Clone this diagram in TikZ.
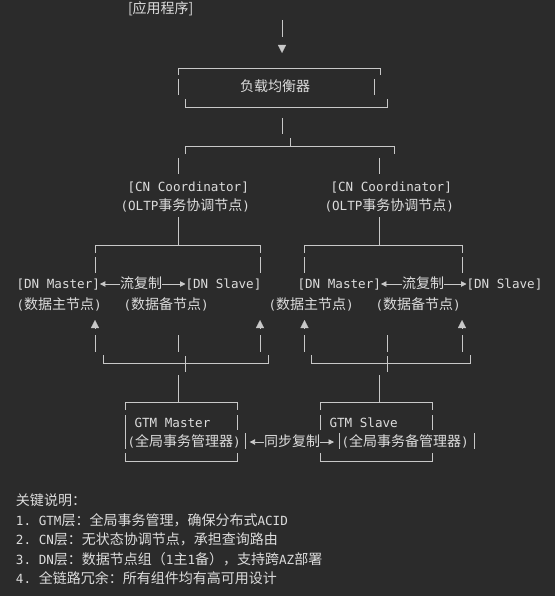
\documentclass[tikz,border=0pt]{standalone}
\usepackage{fontspec}
\setmonofont{DejaVu Sans Mono}
\newfontfamily\cjkfont{Noto Sans CJK SC}
\usepackage{tikz}
\usetikzlibrary{arrows.meta, positioning}
\definecolor{bg}{HTML}{2B2B2B}
\definecolor{fg}{HTML}{DCDCDC}
\definecolor{wirec}{HTML}{C8C8C8}
\newcommand{\zh}[1]{{\cjkfont\fontsize{14}{16}\selectfont #1}}

\begin{document}
\begin{tikzpicture}[
	x=1pt, y=-1pt,
	every node/.style = {shape=rectangle, draw=none, inner sep=0mm, outer sep=0mm, anchor=west, text=fg, text height=10pt, text depth=0.4pt, font=\ttfamily\fontsize{12.6}{15}\selectfont},
	wire/.style = {draw=wirec, line width=0.9pt},
	tip/.style = {draw=wirec, fill=wirec, line width=0.3pt, -{Triangle[length=8pt,width=8pt]}},
	lrep/.style = {wire, {Triangle[length=5.5pt,width=5.5pt]}-},
	rrep/.style = {wire, -{Triangle[length=5.5pt,width=5.5pt]}},
	]
\fill[bg] (0,0) rectangle (555,596);
\begin{scope}
	\node (app) at (128,9) {\zh{[应用程序]}};
	\node (lb) at (240,87) {\zh{负载均衡器}};
	\node (cnA) at (127.5,187) {[CN Coordinator]};
	\node (cnAs) at (120.5,206) {(OLTP\zh{事务协调节点})};
	\node (cnB) at (330.5,187) {[CN Coordinator]};
	\node (cnBs) at (324.5,206) {(OLTP\zh{事务协调节点})};
	\node (dnmA) at (16.5,284) {[DN Master]};
	\node (repA) at (120,284) {\zh{流复制}};
	\node (dnsA) at (185.5,284) {[DN Slave]};
	\node (dnmB) at (297.5,284) {[DN Master]};
	\node (repB) at (402,284) {\zh{流复制}};
	\node (dnsB) at (466.5,284) {[DN Slave]};
	\node (dnmAs) at (16.5,305) {(\zh{数据主节点})};
	\node (dnsAs) at (123.5,305) {(\zh{数据备节点})};
	\node (dnmBs) at (268.5,305) {(\zh{数据主节点})};
	\node (dnsBs) at (375.5,305) {(\zh{数据备节点})};
	\node (gtmM) at (134.5,423) {GTM Master};
	\node (gtmMs) at (127.5,442) {(\zh{全局事务管理器})};
	\node (sync) at (264,442) {\zh{同步复制}};
	\node (gtmS) at (329.5,423) {GTM Slave};
	\node (gtmSs) at (341.5,442) {(\zh{全局事务备管理器})};
\end{scope}
% replication arrows
\draw[lrep] (dnmA.east) -- (repA.west);
\draw[rrep] (repA.east) -- (dnsA.west);
\draw[lrep] (dnmB.east) -- (repB.west);
\draw[rrep] (repB.east) -- (dnsB.west);
\draw[lrep] ([xshift=9pt]gtmMs.east) -- (sync.west);
\draw[rrep] (sync.east) -- ([xshift=-7.5pt]gtmSs.west);
% app to load balancer
\draw[wire] (282,20) -- (282,37);
\draw[tip] (282,45) -- (282,53);
\draw[wire] (178,75) -- (178,68) -- (380,68) -- (380,75);
\draw[wire] (178,79) -- (178,95) (374.5,79) -- (374.5,95);
\draw[wire] (185,99) -- (185,107) -- (387,107) -- (387,99);
% load balancer to coordinators
\draw[wire] (282,118) -- (282,134);
\draw[wire] (290,138) -- (290,146) (185,154) -- (185,146) -- (394,146) -- (394,154);
\draw[wire] (178,158) -- (178,174) (379.5,158) -- (379.5,174);
% coordinators to data nodes
\draw[wire] (178,217) -- (178,245) (379.5,217) -- (379.5,245);
\draw[wire] (95,253) -- (95,245) -- (260,245) -- (260,253) (304.5,253) -- (304.5,245) -- (462,245) -- (462,253);
\foreach \x in {95,260,304.5,462} {
	\draw[wire] (\x,257) -- (\x,273);
	\draw[tip] (\x,328) -- (\x,320);
}
% data nodes to GTM
\foreach \x in {95,178,260,304.5,387,462}
	\draw[wire] (\x,335) -- (\x,352);
\draw[wire] (103,355) -- (103,363) -- (268,363) -- (268,355) (185,356) -- (185,372);
\draw[wire] (311.5,355) -- (311.5,363) -- (470,363) -- (470,355) (387,356) -- (387,372);
\draw[wire] (178,375) -- (178,402) (379.5,375) -- (379.5,402);
% GTM boxes
\draw[wire] (125,410) -- (125,402) -- (237,402) -- (237,410);
\draw[wire] (125,415) -- (125,449) (237,415) -- (237,430) (245,433) -- (245,449);
\draw[wire] (125,453) -- (125,461) -- (237,461) -- (237,453);
\draw[wire] (320,410) -- (320,402) -- (432,402) -- (432,410);
\draw[wire] (320,415) -- (320,430) (432,415) -- (432,430) (339,433) -- (339,449) (474,433) -- (474,449);
\draw[wire] (320,453) -- (320,461) -- (432,461) -- (432,453);
% notes, from top to bottom
\node (n0) at (16,501) {\zh{关键说明：}};
\node (n1) at (16,520.5) {1. GTM\zh{层：全局事务管理，确保分布式}ACID};
\node (n2) at (16,540) {2. CN\zh{层：无状态协调节点，承担查询路由}};
\node (n3) at (16,559.5) {3. DN\zh{层：数据节点组（}1\zh{主}1\zh{备），支持跨}AZ\zh{部署}};
\node (n4) at (16,579) {4. \zh{全链路冗余：所有组件均有高可用设计}};
\end{tikzpicture}
\end{document}
